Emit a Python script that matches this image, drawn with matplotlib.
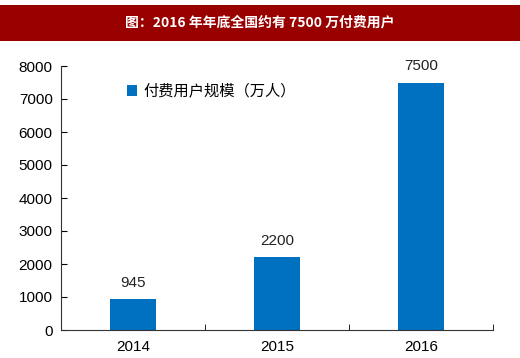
import matplotlib.pyplot as plt
from matplotlib.patches import Rectangle

plt.rcParams['font.family'] = ['Liberation Sans', 'Noto Sans CJK SC']

years = ['2014', '2015', '2016']
users = [945, 2200, 7500]
yticks = [0, 1000, 2000, 3000, 4000, 5000, 6000, 7000, 8000]
title = '图：2016 年年底全国约有 7500 万付费用户'
series_name = '付费用户规模（万人）'

fig = plt.figure(figsize=(5.2, 3.58), dpi=100)
fig.patches.append(Rectangle((0, 1 - 41 / 358), 1, 36 / 358, transform=fig.transFigure,
                             facecolor='#990000', edgecolor='none', zorder=0))
fig.text(0.5, 1 - 23 / 358, title, color='white', fontsize=10, fontweight='bold',
         ha='center', va='center', family=['Noto Sans CJK SC', 'DejaVu Sans'])

ax = fig.add_axes([61 / 520, 1 - 330 / 358, 432 / 520, 264 / 358])
x = range(len(years))
bars = ax.bar(x, users, width=0.32, color='#0070C0', label=series_name)
for xi, v in zip(x, users):
    ax.text(xi, v + 280, str(v), ha='center', va='bottom', fontsize=11, color='#222222')

ax.set_xlim(-0.5, 2.5)
ax.set_ylim(0, 8000)
ax.set_yticks(yticks)
ax.set_xticks(list(x))
ax.set_xticklabels(years)
ax.set_xticks([0.5, 1.5, 2.5], minor=True)
ax.tick_params(axis='x', which='major', length=0, labelsize=11, pad=7)
ax.tick_params(axis='x', which='minor', direction='in', length=4)
ax.tick_params(axis='y', direction='in', length=4, labelsize=11, pad=6)
for s in ['top', 'right']:
    ax.spines[s].set_visible(False)
for s in ['left', 'bottom']:
    ax.spines[s].set_color('#333333')

leg = ax.legend(loc='center left', bbox_to_anchor=(113 / 520, 1 - 91 / 358),
                bbox_transform=fig.transFigure, frameon=False, handlelength=0.7,
                handleheight=0.7, handletextpad=0.4,
                prop={'family': 'Noto Sans CJK SC', 'size': 11})

fig.savefig('out.png', dpi=100)
